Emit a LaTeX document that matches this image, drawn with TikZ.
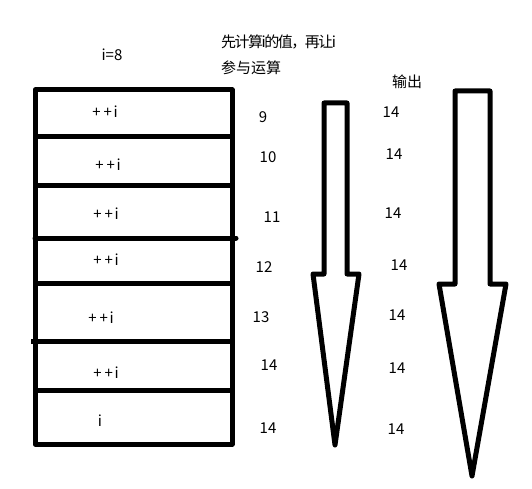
\documentclass[tikz,border=0pt]{standalone}
\usepackage{fontspec}
\setmainfont{Noto Sans CJK SC}
\usepackage{tikz}

\newcommand{\incr}{+\kern3pt+\kern1.5pt i}

\begin{document}
\begin{tikzpicture}[x=1pt,y=-1pt,
    every node/.style={font=\fontsize{15}{18}\selectfont, inner sep=0pt},
    wall/.style={line width=5pt, line join=round}]
      \useasboundingbox (0,0) rectangle (532,489);

      % the stack of cells
      \draw [wall] (35,90) rectangle (232,444);
      \draw [wall] (35,137) -- (232,137);
      \draw [wall] (35,185) -- (232,185);
      \draw [wall, line cap=round] (35,238) -- (236,238);
      \draw [wall] (35,283) -- (232,283);
      \draw [wall] (31,341) -- (232,341);
      \draw [wall] (35,390) -- (235,390);

      \node (init) at (112,55) {i=8};
      \node (c1) at (105,112) {\incr};
      \node (c2) at (108,165) {\incr};
      \node (c3) at (106,214) {\incr};
      \node (c4) at (106,260) {\incr};
      \node (c5) at (101,318) {\incr};
      \node (c6) at (106,373) {\incr};
      \node (c7) at (100,421) {i};

      % values of i
      \node (v1) at (263,117) {9};
      \node (v2) at (268,157) {10};
      \node (v3) at (272,217) {11};
      \node (v4) at (264,267) {12};
      \node (v5) at (261,317) {13};
      \node (v6) at (269,365) {14};
      \node (v7) at (268,428) {14};

      \node [anchor=west] (note1) at (221,42)
        {\addfontfeature{LetterSpace=-10}先计算i的值，再让i};
      \node [anchor=west] (note2) at (221,68) {参与运算};

      % ------
      \draw [wall] (324,103) -- (347,103) -- (347,274) -- (359,274)
        -- (335,445) -- (313,274) -- (324,274) -- cycle;

      % output
      \node (out) at (407,82) {输出};
      \node (o1) at (391,112) {14};
      \node (o2) at (394,154) {14};
      \node (o3) at (393,213) {14};
      \node (o4) at (399,265) {14};
      \node (o5) at (397,315) {14};
      \node (o6) at (397,368) {14};
      \node (o7) at (396,429) {14};

      \draw [wall] (455,91) -- (490,91) -- (490,284) -- (506,284)
        -- (472,476) -- (439,284) -- (455,284) -- cycle;

    \end{tikzpicture}
\end{document}
